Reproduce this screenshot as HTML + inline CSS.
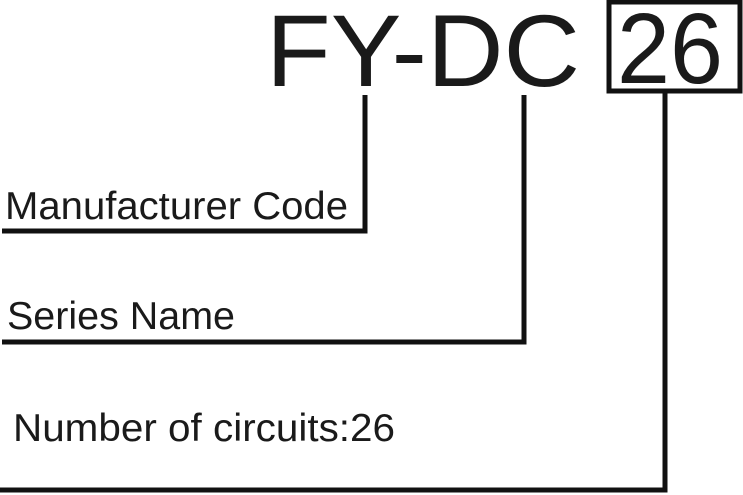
<!DOCTYPE html>
<html><head><meta charset="utf-8"><style>
html,body{margin:0;padding:0;background:#fff;}
svg{display:block;}
text{font-family:"Liberation Sans",Arial,sans-serif;fill:#1a1a1a;}
</style></head><body>
<svg width="743" height="495" viewBox="0 0 743 495" xmlns="http://www.w3.org/2000/svg">
<text x="266" y="86" font-size="102" textLength="314" lengthAdjust="spacingAndGlyphs">FY-DC</text>
<rect x="609" y="2" width="131" height="89" fill="none" stroke="#111" stroke-width="5"/>
<text x="617" y="83" font-size="100" textLength="106" lengthAdjust="spacingAndGlyphs">26</text>
<g stroke="#111" stroke-width="5" fill="none">
<polyline points="365,95 365,231 2,231"/>
<polyline points="524,95 524,342 2,342"/>
<polyline points="665,93 665,490 0,490"/>
</g>
<text x="5" y="219" font-size="39" textLength="343" lengthAdjust="spacingAndGlyphs">Manufacturer Code</text>
<text x="7" y="329" font-size="39" textLength="228" lengthAdjust="spacingAndGlyphs">Series Name</text>
<text x="13" y="441" font-size="39" textLength="382" lengthAdjust="spacingAndGlyphs">Number of circuits:26</text>
</svg>
</body></html>
